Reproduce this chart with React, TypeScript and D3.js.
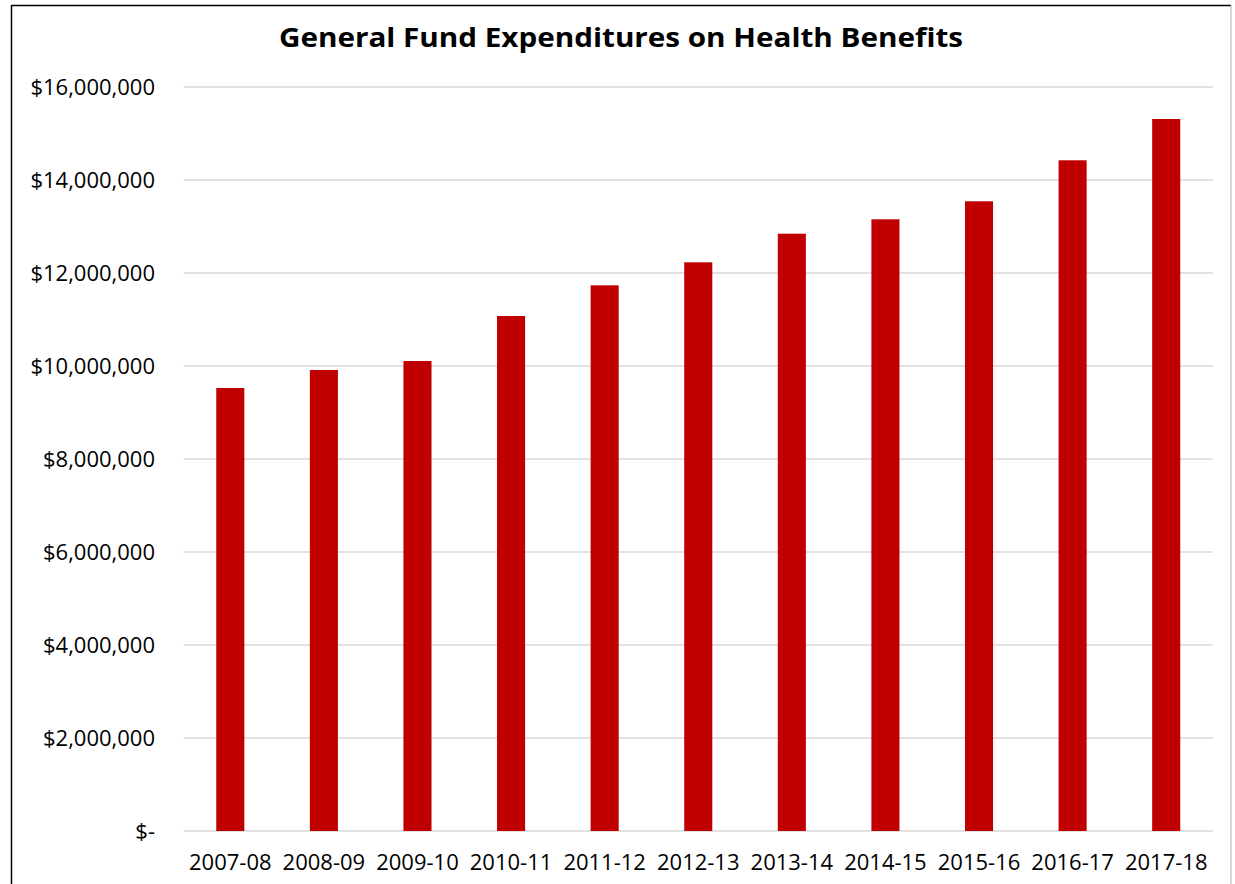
import React from "react";
import * as d3 from "d3";

const categories = ["2007-08","2008-09","2009-10","2010-11","2011-12","2012-13","2013-14","2014-15","2015-16","2016-17","2017-18"];
const expenditures = [9527000, 9914000, 10108000, 11075000, 11735000, 12230000, 12845000, 13155000, 13542000, 14424000, 15312000];
const yTicks = [0, 2000000, 4000000, 6000000, 8000000, 10000000, 12000000, 14000000, 16000000];
const title = "General Fund Expenditures on Health Benefits";

const W = 1235, H = 884;
const plotLeft = 183.5, plotRight = 1213, plotTop = 87, plotBottom = 831;
const font = "'Open Sans', sans-serif";

export default function App() {
  const x = d3.scaleBand<string>().domain(categories).range([plotLeft, plotRight]).paddingInner(0.7).paddingOuter(0.35);
  const y = d3.scaleLinear().domain([0, 16000000]).range([plotBottom, plotTop]);
  const fmt = (v: number) => (v === 0 ? "$-" : "$" + d3.format(",")(v));
  return (
    <svg width={W} height={H} style={{ position: "absolute", left: 0, top: 0, background: "#fff" }}>
      <rect x={0} y={0} width={W} height={H} fill="#fff" />
      <line x1={11.5} y1={5.5} x2={1231} y2={5.5} stroke="#000" strokeWidth={1.5} />
      <line x1={11.5} y1={5} x2={11.5} y2={H} stroke="#000" strokeWidth={1.5} />
      <line x1={1231} y1={5} x2={1231} y2={H} stroke="#b0b0b0" strokeWidth={1} />
      <text x={621} y={47} textAnchor="middle" fontFamily={font} fontWeight="bold" fontSize={27} fill="#000" textLength={684} lengthAdjust="spacingAndGlyphs">{title}</text>
      {yTicks.map((t) => (
        <g key={t}>
          <line x1={plotLeft} x2={plotRight} y1={y(t)} y2={y(t)} stroke="#d9d9d9" strokeWidth={1.5} />
          <text x={155} y={y(t)} dy="0.35em" textAnchor="end" fontFamily={font} fontSize={22} fill="#000">{fmt(t)}</text>
        </g>
      ))}
      {categories.map((c, i) => (
        <rect key={c} x={x(c)} y={y(expenditures[i])} width={x.bandwidth()} height={y(0) - y(expenditures[i])} fill="#c00000" />
      ))}
      {categories.map((c) => (
        <text key={c} x={(x(c) as number) + x.bandwidth() / 2} y={862} dy="0.35em" textAnchor="middle" fontFamily={font} fontSize={22} fill="#000">{c}</text>
      ))}
    </svg>
  );
}
